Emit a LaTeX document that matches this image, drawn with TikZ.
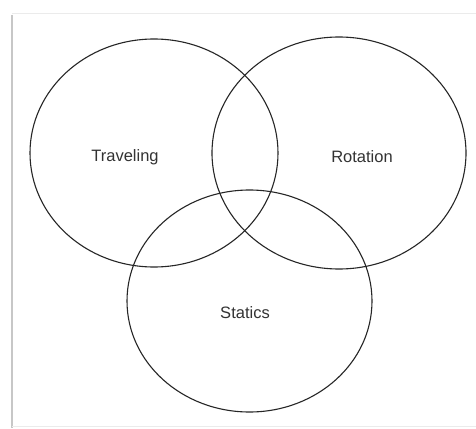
\documentclass[tikz,border=0pt]{standalone}
\usepackage{fontspec}
\setmainfont{Liberation Sans}
\usetikzlibrary{positioning,shapes.geometric}

\begin{document}
\begin{tikzpicture}[
    x=1pt, y=-1pt,
    ring/.style={draw, ellipse, line width=1.1pt, draw=black!85, inner sep=0pt},
    ringlabel/.style={font=\fontsize{16.5}{18}\selectfont, text=black!80, inner sep=1pt}
]

\useasboundingbox (0,0) rectangle (476,428);
\fill[white] (0,0) rectangle (476,428);

% faint frame of the scanned page
\draw[line width=2pt, black!22] (12,15) -- (12,428);
\draw[line width=1pt, black!8] (12,14) -- (476,14);
\draw[line width=1pt, black!8] (12,426) -- (476,426);

\node[ring, minimum width=248pt, minimum height=228pt] (traveling) at (154,153) {};
\node[ring, minimum width=254pt, minimum height=232pt] (rotation) at (339,153) {};
\node[ring, minimum width=245pt, minimum height=222pt] (statics) at (249.5,301) {};

\node[ringlabel] (travelinglabel) at (125,157) {Traveling};
\node[ringlabel] (rotationlabel) at (362,157) {Rotation};
\node[ringlabel] (staticslabel) at (245,313) {Statics};

\end{tikzpicture}
\end{document}
